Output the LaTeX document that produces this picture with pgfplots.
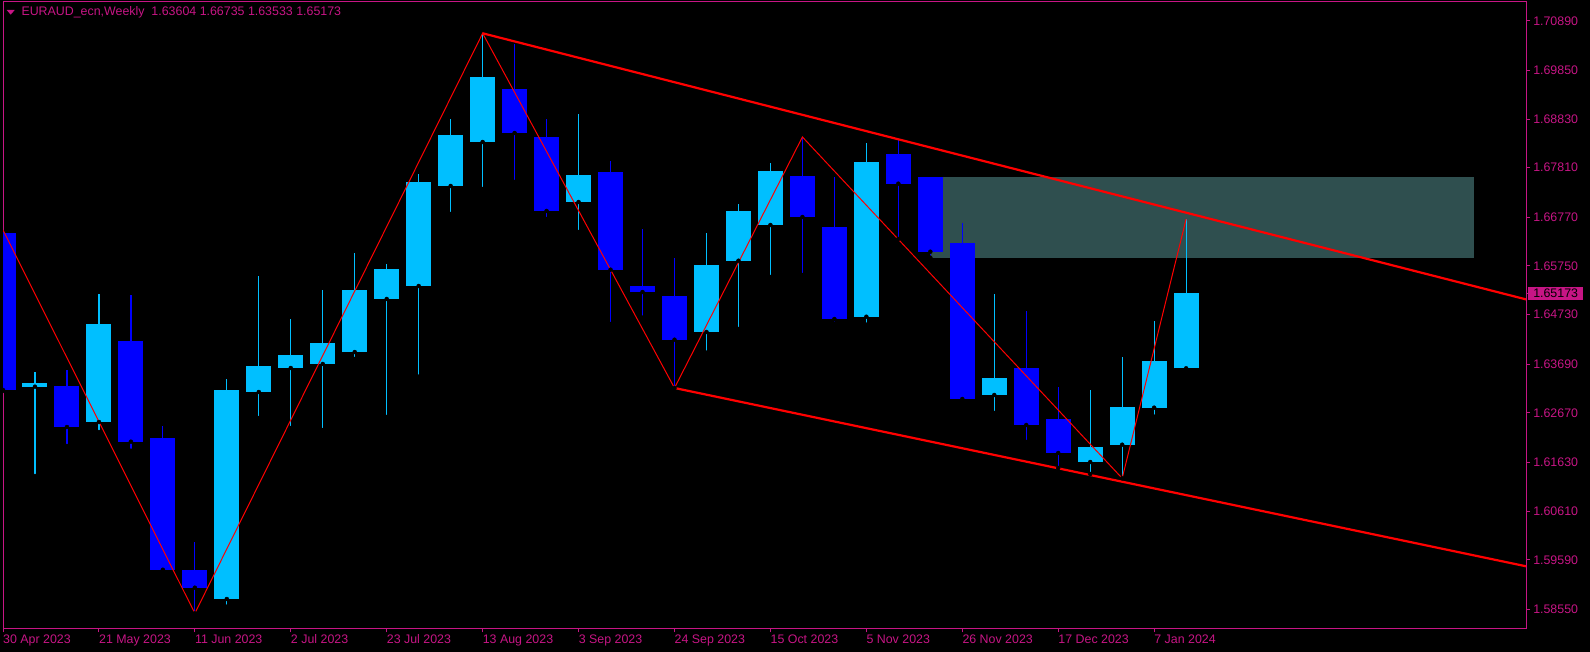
\documentclass[border=0pt]{standalone}
\usepackage{fontspec}
\setmainfont{Liberation Sans}
\usepackage{pgfplots}
\usepackage{pgfplotstable}
\pgfplotsset{compat=1.18}
\definecolor{mvr}{RGB}{199,21,133}
\definecolor{bullc}{RGB}{0,191,255}
\definecolor{bearc}{RGB}{0,0,255}
\definecolor{zone}{RGB}{47,79,79}

\pgfplotstableread{
x o h l c
1 1.63219 1.63527 1.61347 1.63296
3 1.62479 1.65162 1.62269 1.64533
7 1.58768 1.63380 1.58607 1.63150
8 1.63108 1.65540 1.62563 1.63653
9 1.63611 1.64638 1.62353 1.63884
10 1.63695 1.65246 1.62311 1.64135
11 1.63946 1.66022 1.63800 1.65246
12 1.65058 1.65791 1.62584 1.65687
13 1.65330 1.67678 1.63429 1.67511
14 1.67427 1.68831 1.66840 1.68496
15 1.68349 1.70628 1.67364 1.69712
18 1.67091 1.68936 1.66462 1.67657
22 1.64366 1.66441 1.63932 1.65770
23 1.65860 1.67049 1.64429 1.66903
24 1.66609 1.67909 1.65519 1.67741
27 1.64686 1.68328 1.64519 1.67930
31 1.63045 1.65162 1.62668 1.63401
34 1.61640 1.63150 1.61389 1.61955
35 1.62003 1.63842 1.61299 1.62793
36 1.62779 1.64596 1.62590 1.63758
37 1.63604 1.66735 1.63533 1.65173
}\bull

\pgfplotstableread{
x o h l c
0 1.66435 1.66504 1.63130 1.63150
2 1.63234 1.63569 1.61976 1.62374
4 1.64177 1.65141 1.61877 1.62066
5 1.62143 1.62395 1.59340 1.59382
6 1.59376 1.59963 1.58468 1.59005
16 1.69460 1.70404 1.67511 1.68538
17 1.68454 1.68831 1.66735 1.66903
19 1.67720 1.67951 1.64533 1.65672
20 1.65330 1.66525 1.64666 1.65204
21 1.65120 1.65917 1.63192 1.64204
25 1.67636 1.68454 1.65561 1.66777
26 1.66567 1.67609 1.64540 1.64638
28 1.68098 1.68418 1.66316 1.67475
29 1.67609 1.67620 1.65923 1.66049
30 1.66232 1.66645 1.62877 1.62961
32 1.63611 1.64806 1.62060 1.62416
33 1.62542 1.63213 1.61515 1.61829
}\bear

\begin{document}
\begin{tikzpicture}[x=1pt,y=1pt]
\useasboundingbox (0,0) rectangle (1590,652);
\fill[black] (0,0) rectangle (1590,652);
\begin{axis}[
  at={(3pt,23.7pt)}, anchor=south west,
  width=1523pt, height=626.3pt, scale only axis,
  xmin=0, xmax=47.63, ymin=1.58154, ymax=1.71284,
  axis line style={mvr, line width=1pt},
  tick style={mvr, line width=1pt},
  tick align=outside, major tick length=4pt,
  xtick pos=bottom, ytick pos=right,
  yticklabel pos=right,
  xtick={0,3,...,36},
  xticklabels={30 Apr 2023, 21 May 2023, 11 Jun 2023, 2 Jul 2023, 23 Jul 2023, 13 Aug 2023, 3 Sep 2023, 24 Sep 2023, 15 Oct 2023, 5 Nov 2023, 26 Nov 2023, 17 Dec 2023, 7 Jan 2024},
  ytick={1.58550,1.59590,1.60610,1.61630,1.62670,1.63690,1.64730,1.65750,1.66770,1.67810,1.68830,1.69850,1.70890},
  yticklabels={1.58550,1.59590,1.60610,1.61630,1.62670,1.63690,1.64730,1.65750,1.66770,1.67810,1.68830,1.69850,1.70890},
  ticklabel style={font=\fontsize{12.4}{14}\selectfont, text=mvr},
  xticklabel style={anchor=north west, inner sep=0pt, xshift=0pt, yshift=-2pt},
  yticklabel style={anchor=west, inner sep=0pt, xshift=3pt},
  extra y ticks={1.65173},
  extra y tick labels={1.65173},
  extra y tick style={yticklabel style={fill=mvr, text=black, inner xsep=5pt, inner ysep=2.2pt, xshift=-5pt}},
  clip=true,
]
\addplot[fill=zone, draw=none] coordinates {(29,1.67609) (46,1.67609) (46,1.65923) (29,1.65923)};

\addplot[only marks, mark=none, error bars/.cd, y dir=plus, y explicit, error mark=none,
  error bar style={line width=1.2pt, color=bullc}]
  table[x=x, y=l, y error plus expr=\thisrow{h}-\thisrow{l}] {\bull};
\addplot[only marks, mark=none, error bars/.cd, y dir=plus, y explicit, error mark=none,
  error bar style={line width=1.2pt, color=bearc}]
  table[x=x, y=l, y error plus expr=\thisrow{h}-\thisrow{l}] {\bear};
\addplot[only marks, mark=none, error bars/.cd, y dir=plus, y explicit, error mark=none,
  error bar style={line width=25pt, color=bullc}]
  table[x=x, y=o, y error plus expr=\thisrow{c}-\thisrow{o}] {\bull};
\addplot[only marks, mark=none, error bars/.cd, y dir=plus, y explicit, error mark=none,
  error bar style={line width=25pt, color=bearc}]
  table[x=x, y=c, y error plus expr=\thisrow{o}-\thisrow{c}] {\bear};

\addplot[red, line width=1pt] coordinates {(0,1.66504) (6,1.58468) (15,1.70628) (21,1.63192) (25,1.68454) (35,1.61299) (37,1.66735)};
\addplot[red, line width=2.2pt] coordinates {(15,1.70628) (48,1.64986)};
\addplot[red, line width=2.2pt] coordinates {(21,1.63192) (48,1.59402)};
\end{axis}
\fill[mvr] (6.7,642) -- (14.7,642) -- (10.7,637.3) -- cycle;
\node[anchor=base west, inner sep=0pt, text=mvr, font=\fontsize{12.4}{14}\selectfont] at (21.3,636) {EURAUD\_ecn,Weekly\ \ 1.63604 1.66735 1.63533 1.65173};
\end{tikzpicture}
\end{document}
